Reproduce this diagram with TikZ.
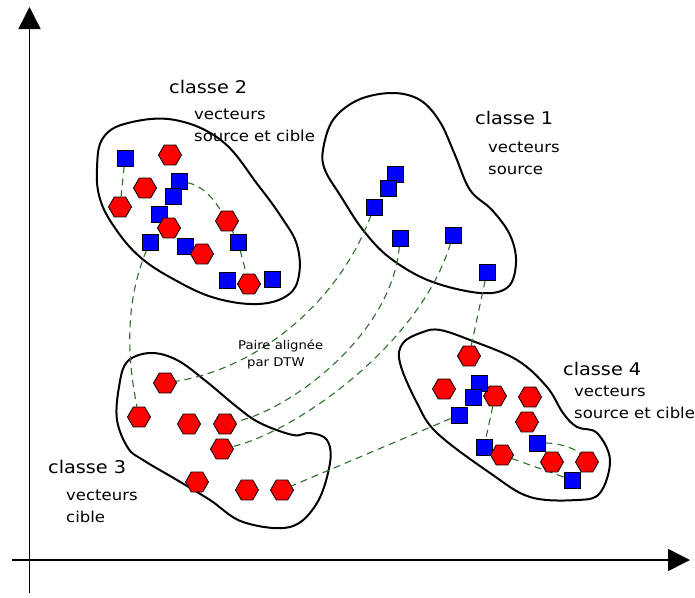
\documentclass[tikz,border=0pt]{standalone}
\usepackage{fontspec}
\setmainfont{DejaVu Sans}[FakeStretch=1.1]
\usetikzlibrary{arrows.meta,shapes.geometric,backgrounds}
\definecolor{pairgreen}{RGB}{45,110,45}

\begin{document}
\begin{tikzpicture}[x=1pt,y=-1pt,
    vec/.style={draw=black,line width=0.8pt,fill=blue,minimum size=16pt,inner sep=0pt},
    hexa/.style={draw=black,line width=0.8pt,fill=red,regular polygon,regular polygon sides=6,minimum size=23pt,inner sep=0pt},
    pair/.style={draw=pairgreen,line width=1.1pt,dash pattern=on 7pt off 5pt},
    blob/.style={draw=black,line width=2pt},
    axis/.style={line width=1.5pt,-{Triangle[length=22pt,width=22pt]}},
    titre/.style={anchor=west,inner sep=0pt,font=\fontsize{17.5}{18}\selectfont},
    legende/.style={anchor=west,inner sep=0pt,font=\fontsize{15}{16}\selectfont},
    ]
    \useasboundingbox (0,0) rectangle (695,597);

    % axes
    \draw[axis] (29.5,593) -- (29.5,7);
    \draw[axis] (12,560) -- (690,560);

    % classe 2
        \node[vec] (c2s1) at (125,158) {};
        \node[vec] (c2s2) at (179,181) {};
        \node[vec] (c2s3) at (173,196) {};
        \node[vec] (c2s4) at (159,214) {};
        \node[vec] (c2s5) at (150,242) {};
        \node[vec] (c2s6) at (185,246) {};
        \node[vec] (c2s7) at (238,242) {};
        \node[vec] (c2s8) at (227,280) {};
        \node[vec] (c2s9) at (272,279) {};
        \node[hexa] (c2h1) at (170,155) {};
        \node[hexa] (c2h2) at (145,188) {};
        \node[hexa] (c2h3) at (120,207) {};
        \node[hexa] (c2h4) at (169,228) {};
        \node[hexa] (c2h5) at (227,221) {};
        \node[hexa] (c2h6) at (202,254) {};
        \node[hexa] (c2h7) at (249,284) {};

    % classe 1
        \node[vec] (c1s1) at (395,174) {};
        \node[vec] (c1s2) at (388,188) {};
        \node[vec] (c1s3) at (374,207) {};
        \node[vec] (c1s4) at (400,238) {};
        \node[vec] (c1s5) at (453,235) {};
        \node[vec] (c1s6) at (487,272) {};

    % classe 3
        \node[hexa] (c3h1) at (165,383) {};
        \node[hexa] (c3h2) at (139,417) {};
        \node[hexa] (c3h3) at (189,424) {};
        \node[hexa] (c3h4) at (225,424) {};
        \node[hexa] (c3h5) at (222,449) {};
        \node[hexa] (c3h6) at (197,482) {};
        \node[hexa] (c3h7) at (247,490) {};
        \node[hexa] (c3h8) at (282,490) {};

    % classe 4
        \node[hexa] (c4h1) at (469,356) {};
        \node[hexa] (c4h2) at (444,389) {};
        \node[hexa] (c4h3) at (495,396) {};
        \node[hexa] (c4h4) at (530,397) {};
        \node[hexa] (c4h5) at (527,422) {};
        \node[vec] (c4s1) at (479,383) {};
        \node[vec] (c4s2) at (473,397) {};
        \node[vec] (c4s3) at (459,415) {};
        \node[vec] (c4s4) at (484,447) {};
        \node[hexa] (c4h6) at (502,455) {};
        \node[hexa] (c4h7) at (552,462) {};
        \node[hexa] (c4h8) at (587,462) {};
        \node[vec] (c4s5) at (537,443) {};
        \node[vec] (c4s6) at (572,480) {};

    \begin{scope}[on background layer]
        % contours des classes
        \draw[blob] plot[smooth cycle,tension=0.65] coordinates {(97,168) (103,138) (128,123) (175,120) (222,141) (258,185) (282,218) (297,245) (299,275) (288,295) (258,304) (215,298) (175,280) (140,257) (115,228) (100,199)};
        \draw[blob] plot[smooth cycle,tension=0.6] coordinates {(323,150) (333,120) (358,100) (392,93) (420,100) (440,122) (455,155) (470,190) (492,210) (510,235) (516,262) (508,287) (480,293) (430,281) (390,258) (363,230) (340,195) (325,170)};
        \draw[blob] plot[smooth cycle,tension=0.6] coordinates {(127,362) (150,353) (177,360) (207,382) (237,407) (260,423) (293,435) (310,433) (327,440) (330,463) (317,503) (290,527) (243,522) (210,500) (177,480) (143,460) (128,448) (117,420) (119,387)};
        \draw[blob] plot[smooth cycle,tension=0.6] coordinates {(423,332) (403,343) (400,363) (417,403) (437,433) (490,473) (530,497) (577,500) (600,493) (610,460) (597,433) (577,427) (563,413) (547,387) (517,360) (470,340) (440,330)};

        % paires alignees
        \draw[pair] (c2s1) -- (c2h3);
        \draw[pair] (c2s2) .. controls +(25,5) and +(-12,-20) .. (c2h5) -- (c2s7) -- (c2h7);
        \draw[pair] (c2s5) .. controls +(-25,60) and +(-12,-60) .. (c3h2);
        \draw[pair] (c1s3) .. controls +(-34,93) and +(95,-15) .. (c3h1);
        \draw[pair] (c1s4) .. controls +(-8,97) and +(65,-14) .. (c3h4);
        \draw[pair] (c1s5) .. controls +(-33,110) and +(73,-17) .. (c3h5);
        \draw[pair] (c1s6) -- (c4h1);
        \draw[pair] (c4s3) -- (c3h8);
        \draw[pair] (c4h3) -- (c4s4) -- (c4h6) -- (c4s6);
        \draw[pair] (c4s5) .. controls +(25,0) and +(-10,-12) .. (c4h8);
    \end{scope}

    % textes
        \node[titre] (t2) at (169,87) {classe 2};
        \node[legende] (v2) at (194,114) {vecteurs};
        \node[legende] (s2) at (194,136) {source et cible};
        \node[titre] (t1) at (475,118) {classe 1};
        \node[legende] (v1) at (488,147) {vecteurs};
        \node[legende] (s1) at (488,170) {source};
        \node[titre] (t3) at (48,467) {classe 3};
        \node[legende] (v3) at (66,495) {vecteurs};
        \node[legende] (s3) at (66,517) {cible};
        \node[titre] (t4) at (563,369) {classe 4};
        \node[legende] (v4) at (574,391) {vecteurs};
        \node[legende] (s4) at (574,413) {source et cible};
        \node[anchor=west,inner sep=0pt,font=\fontsize{12}{13}\selectfont] (p1) at (238,346) {Paire alignée};
        \node[anchor=west,inner sep=0pt,font=\fontsize{12}{13}\selectfont] (p2) at (247,363) {par DTW};

\end{tikzpicture}
\end{document}
